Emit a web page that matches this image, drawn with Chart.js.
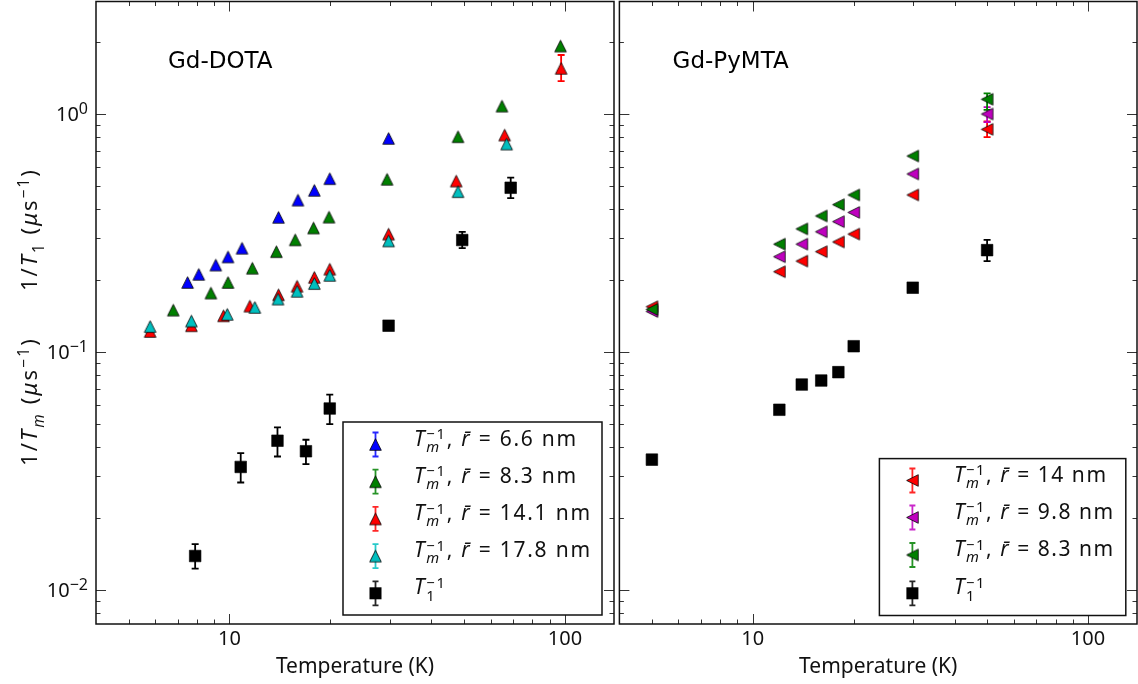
<!DOCTYPE html>
<html>
<head>
<meta charset="utf-8">
<title>Gd-DOTA / Gd-PyMTA relaxation rates</title>
<script src="https://cdn.jsdelivr.net/npm/chart.js@4.4.1/dist/chart.umd.min.js"></script>
<style>
    html, body { margin: 0; padding: 0; background: #fff; }
    #wrap { position: relative; width: 1138px; height: 684px; overflow: hidden; }
    canvas { position: absolute; top: 0; }
    #dotaChart { left: 0; }
    #pymtaChart { left: 616px; }
</style>
</head>
<body>
<div id="wrap">
    <canvas id="dotaChart" width="616" height="684"></canvas>
    <canvas id="pymtaChart" width="522" height="684"></canvas>
</div>
<script>
'use strict';

// tick positions and labels (both panels share the same axes)
const xMajorTicks = [10, 100];
const xMinorTicks = [5, 6, 7, 8, 9, 20, 30, 40, 50, 60, 70, 80, 90];
const xTickLabels = ['10', '100'];
const yMajorTicks = [0.01, 0.1, 1];
const yMinorTicks = [0.008, 0.009, 0.02, 0.03, 0.04, 0.05, 0.06, 0.07, 0.08, 0.09,
    0.2, 0.3, 0.4, 0.5, 0.6, 0.7, 0.8, 0.9, 2];
const yTickExponents = ['\u22122', '\u22121', '0'];

// Gd-DOTA: 1/Tm for four distances, 1/T1
const dotaTemp66 = [7.5, 8.1, 9.1, 9.9, 10.9, 14.0, 16.0, 17.9, 19.9, 29.8];
const dotaRate66 = [0.196, 0.212, 0.232, 0.251, 0.273, 0.368, 0.435, 0.478, 0.535, 0.79];

const dotaTemp83 = [6.8, 8.8, 9.9, 11.7, 13.8, 15.7, 17.8, 19.8, 29.5, 48.0, 64.9, 97.0];
const dotaRate83 = [0.150, 0.177, 0.196, 0.225, 0.264, 0.296, 0.332, 0.369, 0.532, 0.803, 1.08, 1.93];

const dotaTemp141 = [5.8, 7.7, 9.6, 11.5, 14.0, 15.9, 17.9, 19.9, 29.8, 47.4, 66.1, 97.4];
const dotaRate141 = [0.122, 0.129, 0.142, 0.156, 0.174, 0.189, 0.206, 0.223, 0.313, 0.523, 0.816, 1.556];
const dotaLow141 = [null, null, null, null, null, null, null, null, null, null, null, 1.376];
const dotaHigh141 = [null, null, null, null, null, null, null, null, null, null, null, 1.77];

const dotaTemp178 = [5.8, 7.7, 9.85, 11.9, 13.95, 15.9, 17.9, 19.9, 29.8, 48.0, 67.0];
const dotaRate178 = [0.128, 0.135, 0.144, 0.154, 0.167, 0.180, 0.194, 0.210, 0.293, 0.472, 0.748];

const dotaTempT1 = [7.9, 10.8, 13.9, 16.9, 19.9, 29.8, 49.4, 68.9];
const dotaRateT1 = [0.0139, 0.0329, 0.0424, 0.0383, 0.0579, 0.129, 0.2955, 0.49];
const dotaLowT1 = [0.0123, 0.0283, 0.0364, 0.0338, 0.0498, null, 0.273, 0.443];
const dotaHighT1 = [0.0156, 0.0376, 0.0482, 0.0428, 0.0662, null, 0.320, 0.54];

// Gd-PyMTA: same temperatures for every series
const pymtaTemp = [5, 12, 14, 16, 18, 20, 30, 50];
const pymtaRate14 = [0.155, 0.2175, 0.241, 0.264, 0.29, 0.313, 0.457, 0.862];
const pymtaLow14 = [null, null, null, null, null, null, null, 0.80];
const pymtaHigh14 = [null, null, null, null, null, null, null, 0.93];
const pymtaRate98 = [0.148, 0.2514, 0.284, 0.32, 0.353, 0.386, 0.56, 1.0];
const pymtaLow98 = [null, null, null, null, null, null, null, 0.925];
const pymtaHigh98 = [null, null, null, null, null, null, null, 1.07];
const pymtaRate83 = [0.151, 0.284, 0.329, 0.373, 0.416, 0.457, 0.666, 1.153];
const pymtaLow83 = [null, null, null, null, null, null, null, 1.04];
const pymtaHigh83 = [null, null, null, null, null, null, null, 1.22];
const pymtaRateT1 = [0.0353, 0.0572, 0.073, 0.0759, 0.0823, 0.1058, 0.1863, 0.268];
const pymtaLowT1 = [null, null, null, null, null, null, null, 0.241];
const pymtaHighT1 = [null, null, null, null, null, null, null, 0.296];

const TEXT_FONT = '"Noto Sans", "DejaVu Sans", sans-serif';
const TITLE_FONT = '"DejaVu Sans", sans-serif';
const MINUS = '\u2212';

const colors = {
    blue: '#0000ff',
    green: '#008000',
    red: '#ff0000',
    cyan: '#00bfbf',
    magenta: '#bf00bf',
    black: '#000000'
};

function toPoints(xs, ys) {
    return xs.map((x, i) => ({ x, y: ys[i] }));
}

// matplotlib-like triangle marker (bbox centred on the point)
function makeTriangle(color, direction) {
    const size = 15;
    const half = 5.8;
    const mid = size / 2;
    const canvas = document.createElement('canvas');
    canvas.width = size;
    canvas.height = size;
    const g = canvas.getContext('2d');
    g.beginPath();
    if (direction === 'left') {
        g.moveTo(mid - half, mid);
        g.lineTo(mid + half, mid - half);
        g.lineTo(mid + half, mid + half);
    } else {
        g.moveTo(mid, mid - half);
        g.lineTo(mid + half, mid + half);
        g.lineTo(mid - half, mid + half);
    }
    g.closePath();
    g.fillStyle = color;
    g.fill();
    g.lineWidth = 0.8;
    g.strokeStyle = '#000';
    g.stroke();
    return canvas;
}

function setTrack(ctx, track) {
    if ('letterSpacing' in ctx) ctx.letterSpacing = `${track}px`;
}

// lays out simple math-like text: italic, subscript, superscript, stacked scripts
function richText(ctx, parts, size, track, x, y, draw) {
    let cursor = x;
    let lastStart = x;
    parts.forEach((part) => {
        const script = part.sub || part.sup;
        const fontSize = script ? size * 0.7 : size;
        ctx.font = `${part.it ? 'italic ' : ''}${fontSize}px ${TEXT_FONT}`;
        setTrack(ctx, track);
        const width = ctx.measureText(part.t).width;
        let px = cursor;
        if (part.stack) {
            px = lastStart;
        } else {
            lastStart = cursor;
        }
        let dy = 0;
        if (part.sub) dy = size * 0.3;
        if (part.sup) dy = part.stack ? -size * 0.3 : -size * 0.38;
        if (draw) ctx.fillText(part.t, px, y + dy);
        cursor = Math.max(cursor, px + width);
    });
    setTrack(ctx, 0);
    return cursor - x;
}

function fitTrack(ctx, parts, size, target) {
    const w0 = richText(ctx, parts, size, 0, 0, 0, false);
    const w1 = richText(ctx, parts, size, 1, 0, 0, false);
    if (w1 === w0) return 0;
    return (target - w0) / (w1 - w0);
}

function tmLabel(distance) {
    return [
        { t: 'T', it: true },
        { t: 'm', it: true, sub: true },
        { t: `${MINUS}1`, sup: true, stack: true },
        { t: ', ' },
        { t: 'r\u0304', it: true },
        { t: ` = ${distance} nm` }
    ];
}

const t1Label = [
    { t: 'T', it: true },
    { t: '1', sub: true },
    { t: `${MINUS}1`, sup: true, stack: true }
];

const yLabelT1 = [
    { t: '1/' }, { t: 'T', it: true }, { t: '1', sub: true },
    { t: ' (' }, { t: '\u03bc', it: true }, { t: 's' }, { t: `${MINUS}1`, sup: true }, { t: ')' }
];
const yLabelTm = [
    { t: '1/' }, { t: 'T', it: true }, { t: 'm', it: true, sub: true },
    { t: ' (' }, { t: '\u03bc', it: true }, { t: 's' }, { t: `${MINUS}1`, sup: true }, { t: ')' }
];

const errorBars = {
    id: 'errorBars',
    beforeDatasetsDraw(chart) {
        const { ctx, scales: { x, y } } = chart;
        chart.data.datasets.forEach((ds) => {
            if (!ds.errLow) return;
            ctx.save();
            ctx.strokeStyle = ds.errColor;
            ctx.lineWidth = 1.8;
            ds.data.forEach((pt, i) => {
                if (ds.errLow[i] == null) return;
                const px = x.getPixelForValue(pt.x);
                const top = y.getPixelForValue(ds.errHigh[i]);
                const bottom = y.getPixelForValue(ds.errLow[i]);
                ctx.beginPath();
                ctx.moveTo(px, top);
                ctx.lineTo(px, bottom);
                ctx.moveTo(px - 3.5, top);
                ctx.lineTo(px + 3.5, top);
                ctx.moveTo(px - 3.5, bottom);
                ctx.lineTo(px + 3.5, bottom);
                ctx.stroke();
            });
            ctx.restore();
        });
    }
};

function drawLegendMarker(ctx, entry, x, y) {
    ctx.save();
    ctx.strokeStyle = entry.color;
    ctx.globalAlpha = 0.85;
    ctx.lineWidth = 1.8;
    ctx.beginPath();
    ctx.moveTo(x, y - 12);
    ctx.lineTo(x, y + 12);
    ctx.moveTo(x - 3, y - 12);
    ctx.lineTo(x + 3, y - 12);
    ctx.moveTo(x - 3, y + 12);
    ctx.lineTo(x + 3, y + 12);
    ctx.stroke();
    ctx.restore();
    if (entry.marker === 'square') {
        ctx.fillStyle = '#000';
        ctx.fillRect(x - 6, y - 6, 12, 12);
    } else {
        ctx.drawImage(entry.marker, x - entry.marker.width / 2, y - entry.marker.height / 2);
    }
}

function makeDecor(panel) {
    return {
        id: 'panelDecor',
        afterDraw(chart) {
            const { ctx, chartArea: a, scales: { x, y } } = chart;
            ctx.save();

            // ticks pointing inwards on all four sides
            ctx.strokeStyle = '#333';
            ctx.lineWidth = 1;
            const vTick = (v, len) => {
                const px = Math.round(x.getPixelForValue(v)) + 0.5;
                ctx.beginPath();
                ctx.moveTo(px, a.bottom);
                ctx.lineTo(px, a.bottom - len);
                ctx.moveTo(px, a.top);
                ctx.lineTo(px, a.top + len);
                ctx.stroke();
            };
            const hTick = (v, len) => {
                const py = Math.round(y.getPixelForValue(v)) + 0.5;
                ctx.beginPath();
                ctx.moveTo(a.left, py);
                ctx.lineTo(a.left + len, py);
                ctx.moveTo(a.right, py);
                ctx.lineTo(a.right - len, py);
                ctx.stroke();
            };
            xMinorTicks.forEach((v) => vTick(v, 4.5));
            xMajorTicks.forEach((v) => vTick(v, 10));
            yMinorTicks.forEach((v) => hTick(v, 4.5));
            yMajorTicks.forEach((v) => hTick(v, 10));

            ctx.strokeStyle = '#111';
            ctx.lineWidth = 1.5;
            ctx.strokeRect(a.left, a.top, a.right - a.left, a.bottom - a.top);

            // x tick labels and axis title
            ctx.fillStyle = '#111';
            ctx.textAlign = 'center';
            ctx.textBaseline = 'alphabetic';
            ctx.font = `20px ${TEXT_FONT}`;
            xMajorTicks.forEach((v, i) => {
                ctx.fillText(xTickLabels[i], x.getPixelForValue(v), a.bottom + 21);
            });
            ctx.font = `21px ${TEXT_FONT}`;
            ctx.fillText('Temperature (K)', (a.left + a.right) / 2, a.bottom + 49);

            if (panel.showYLabels) {
                ctx.textAlign = 'left';
                yMajorTicks.forEach((v, i) => {
                    const py = y.getPixelForValue(v);
                    ctx.font = `16px ${TEXT_FONT}`;
                    const supW = ctx.measureText(yTickExponents[i]).width;
                    ctx.font = `20px ${TEXT_FONT}`;
                    const baseW = ctx.measureText('10').width;
                    const right = a.left - 8;
                    ctx.fillText('10', right - supW - baseW, py + 6.5);
                    ctx.font = `16px ${TEXT_FONT}`;
                    ctx.fillText(yTickExponents[i], right - supW, py - 0.5);
                });

                // rotated y label in two halves
                [[yLabelT1, 229.5, 123], [yLabelTm, 401.5, 129]].forEach(([parts, cy, len]) => {
                    const track = fitTrack(ctx, parts, 22, len);
                    ctx.save();
                    ctx.translate(37, cy);
                    ctx.rotate(-Math.PI / 2);
                    ctx.textAlign = 'left';
                    richText(ctx, parts, 22, track, -len / 2, 0, true);
                    ctx.restore();
                });
            }

            // panel title
            ctx.save();
            ctx.textAlign = 'left';
            ctx.font = `23px ${TITLE_FONT}`;
            ctx.fillStyle = '#000';
            ctx.fillText(panel.title, panel.titleX, 68);
            ctx.restore();

            // legend
            const lg = panel.legend;
            const [bx0, by0, bx1, by1] = lg.box;
            ctx.fillStyle = '#fff';
            ctx.fillRect(bx0, by0, bx1 - bx0, by1 - by0);
            ctx.strokeStyle = '#111';
            ctx.lineWidth = 1.5;
            ctx.strokeRect(bx0, by0, bx1 - bx0, by1 - by0);
            const track = fitTrack(ctx, lg.entries[0].label, 21, lg.firstWidth);
            lg.entries.forEach((entry, i) => {
                const ry = lg.rows[i];
                drawLegendMarker(ctx, entry, lg.markerX, ry);
                ctx.fillStyle = '#111';
                ctx.textAlign = 'left';
                richText(ctx, entry.label, 21, track, lg.textX, ry + 1, true);
            });

            ctx.restore();
        }
    };
}

function buildChart(canvasId, datasets, padding, panel) {
    return new Chart(document.getElementById(canvasId), {
        type: 'scatter',
        data: { datasets },
        options: {
            responsive: false,
            animation: false,
            devicePixelRatio: 1,
            events: [],
            layout: { padding, autoPadding: false },
            scales: {
                x: { type: 'logarithmic', min: 4, max: 140, display: false },
                y: { type: 'logarithmic', min: 0.0072, max: 2.97, display: false }
            },
            plugins: {
                legend: { display: false },
                tooltip: { enabled: false }
            }
        },
        plugins: [errorBars, makeDecor(panel)]
    });
}

function triangleSet(temps, rates, color, direction, order, low, high) {
    return {
        data: toPoints(temps, rates),
        pointStyle: makeTriangle(color, direction),
        pointRadius: 7,
        order,
        errLow: low,
        errHigh: high,
        errColor: color
    };
}

function squareSet(temps, rates, order, low, high) {
    return {
        data: toPoints(temps, rates),
        pointStyle: 'rect',
        pointRadius: 8.2,
        backgroundColor: '#000',
        borderColor: '#000',
        borderWidth: 0.6,
        order,
        errLow: low,
        errHigh: high,
        errColor: '#000'
    };
}

document.addEventListener('DOMContentLoaded', () => {
    const triBlue = makeTriangle(colors.blue, 'up');
    const triGreen = makeTriangle(colors.green, 'up');
    const triRed = makeTriangle(colors.red, 'up');
    const triCyan = makeTriangle(colors.cyan, 'up');
    const leftRed = makeTriangle(colors.red, 'left');
    const leftMagenta = makeTriangle(colors.magenta, 'left');
    const leftGreen = makeTriangle(colors.green, 'left');

    buildChart('dotaChart', [
        triangleSet(dotaTemp66, dotaRate66, colors.blue, 'up', 5),
        triangleSet(dotaTemp83, dotaRate83, colors.green, 'up', 4),
        triangleSet(dotaTemp141, dotaRate141, colors.red, 'up', 3, dotaLow141, dotaHigh141),
        triangleSet(dotaTemp178, dotaRate178, colors.cyan, 'up', 2),
        squareSet(dotaTempT1, dotaRateT1, 1, dotaLowT1, dotaHighT1)
    ], { left: 96, right: 2, top: 1.5, bottom: 60 }, {
        title: 'Gd-DOTA',
        titleX: 168,
        showYLabels: true,
        legend: {
            box: [343, 422, 602, 615],
            markerX: 375.5,
            textX: 414,
            firstWidth: 164,
            rows: [444.5, 481.7, 518.9, 556.1, 593.3],
            entries: [
                { color: colors.blue, marker: triBlue, label: tmLabel('6.6') },
                { color: colors.green, marker: triGreen, label: tmLabel('8.3') },
                { color: colors.red, marker: triRed, label: tmLabel('14.1') },
                { color: colors.cyan, marker: triCyan, label: tmLabel('17.8') },
                { color: colors.black, marker: 'square', label: t1Label }
            ]
        }
    });

    buildChart('pymtaChart', [
        triangleSet(pymtaTemp, pymtaRate14, colors.red, 'left', 3, pymtaLow14, pymtaHigh14),
        triangleSet(pymtaTemp, pymtaRate98, colors.magenta, 'left', 2, pymtaLow98, pymtaHigh98),
        triangleSet(pymtaTemp, pymtaRate83, colors.green, 'left', 1, pymtaLow83, pymtaHigh83),
        squareSet(pymtaTemp, pymtaRateT1, 0, pymtaLowT1, pymtaHighT1)
    ], { left: 3.4, right: 1, top: 1.5, bottom: 60 }, {
        title: 'Gd-PyMTA',
        titleX: 56.6,
        showYLabels: false,
        legend: {
            box: [263.4, 458.6, 509.8, 615.5],
            markerX: 296.4,
            textX: 338,
            firstWidth: 153.6,
            rows: [480.5, 517.5, 555, 593.3],
            entries: [
                { color: colors.red, marker: leftRed, label: tmLabel('14') },
                { color: colors.magenta, marker: leftMagenta, label: tmLabel('9.8') },
                { color: colors.green, marker: leftGreen, label: tmLabel('8.3') },
                { color: colors.black, marker: 'square', label: t1Label }
            ]
        }
    });
});
</script>
</body>
</html>
